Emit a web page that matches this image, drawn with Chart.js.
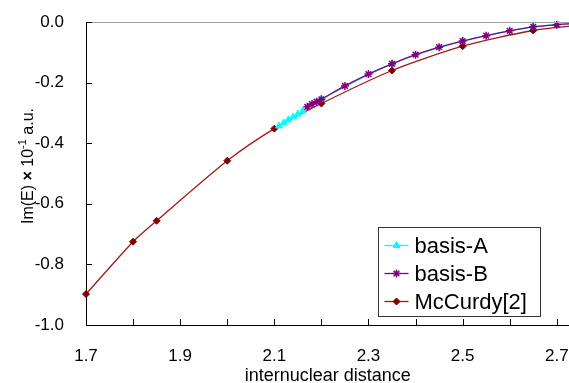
<!DOCTYPE html>
<html>
<head>
<meta charset="utf-8">
<script src="https://cdn.jsdelivr.net/npm/chart.js@4.4.0/dist/chart.umd.min.js"></script>
<style>
  html, body { margin: 0; padding: 0; background: #fff; overflow: hidden; }
  /* the plot runs off the right edge in the picture, so the canvas is a bit wider than the window */
  #wrap { width: 569px; height: 383px; overflow: hidden; }
</style>
</head>
<body>
<div id="wrap"><canvas id="imChart" width="575" height="383"></canvas></div>
<script>
// values (Im(E) in units of 1e-1 a.u.)
const basisAR = [2.11, 2.12, 2.13, 2.14, 2.15, 2.16, 2.2, 2.35, 2.5, 2.65, 2.75];
const basisAIm = [-0.343, -0.333, -0.323, -0.313, -0.304, -0.294, -0.255, -0.138, -0.063, -0.016, -0.004];

const basisBR = [2.17, 2.18, 2.19, 2.2, 2.25, 2.3, 2.35, 2.4, 2.45, 2.5, 2.55, 2.6, 2.65, 2.7, 2.75];
const basisBIm = [-0.280, -0.271, -0.263, -0.255, -0.211, -0.172, -0.138, -0.108, -0.083, -0.063, -0.045, -0.029, -0.016, -0.009, -0.004];

const mcCurdyR = [1.7, 1.8, 1.85, 2.0, 2.1, 2.2, 2.35, 2.5, 2.65, 2.8];
const mcCurdyIm = [-0.898, -0.725, -0.656, -0.458, -0.352, -0.269, -0.160, -0.080, -0.028, -0.003];

const xTicks = [1.7, 1.8, 1.9, 2.0, 2.1, 2.2, 2.3, 2.4, 2.5, 2.6, 2.7];
const xLabels = ['1.7', '1.9', '2.1', '2.3', '2.5', '2.7'];
const yTicks = [-1.0, -0.8, -0.6, -0.4, -0.2, 0.0];

const FONT = "'Liberation Sans', Arial, sans-serif";

function toPoints(xs, ys) {
    return xs.map((x, i) => ({ x: x, y: ys[i] }));
}

// inward tick marks, top frame line, rotated y title and the boxed legend
const decorations = {
    id: 'decorations',
    afterDraw(chart) {
        const ctx = chart.ctx;
        const area = chart.chartArea;
        const xs = chart.scales.x;
        const ys = chart.scales.y;

        ctx.save();
        ctx.strokeStyle = '#a0a0a0';
        ctx.lineWidth = 1;
        ctx.beginPath();
        ctx.moveTo(area.left, area.top + 0.5);
        ctx.lineTo(area.right, area.top + 0.5);
        ctx.stroke();

        ctx.strokeStyle = '#000';
        ctx.beginPath();
        xTicks.forEach(v => {
            const px = Math.round(xs.getPixelForValue(v)) + 0.5;
            ctx.moveTo(px, area.bottom);
            ctx.lineTo(px, area.bottom - 6);
        });
        yTicks.forEach(v => {
            const py = Math.round(ys.getPixelForValue(v)) + 0.5;
            ctx.moveTo(area.left, py);
            ctx.lineTo(area.left + 6, py);
        });
        ctx.stroke();
        ctx.restore();

        // y axis title with superscript
        ctx.save();
        ctx.translate(33, 166);
        ctx.rotate(-Math.PI / 2);
        ctx.fillStyle = '#000';
        ctx.textBaseline = 'alphabetic';
        const parts = [
            { t: 'Im(E) ', f: '16px ' + FONT, dy: 0 },
            { t: '×', f: 'bold 16px ' + FONT, dy: 0 },
            { t: ' 10', f: '16px ' + FONT, dy: 0 },
            { t: '-1', f: '11px ' + FONT, dy: -7 },
            { t: ' a.u.', f: '16px ' + FONT, dy: 0 }
        ];
        let total = 0;
        parts.forEach(p => { ctx.font = p.f; p.w = ctx.measureText(p.t).width; total += p.w; });
        let cx = -total / 2;
        parts.forEach(p => {
            ctx.font = p.f;
            ctx.fillText(p.t, cx, p.dy);
            cx += p.w;
        });
        ctx.restore();

        // legend box
        const bx = 378.5, by = 227.5, bw = 162, bh = 89;
        ctx.save();
        ctx.fillStyle = '#fff';
        ctx.fillRect(bx, by, bw, bh);
        ctx.strokeStyle = '#333';
        ctx.lineWidth = 1;
        ctx.strokeRect(bx, by, bw, bh);
        ctx.font = '22px ' + FONT;
        ctx.textBaseline = 'middle';
        [0, 1, 2].forEach((di, row) => {
            const ds = chart.data.datasets[di];
            const ry = by + 18 + row * 28;
            ctx.strokeStyle = ds.borderColor;
            ctx.lineWidth = ds.borderWidth;
            ctx.beginPath();
            ctx.moveTo(bx + 6, ry);
            ctx.lineTo(bx + 30, ry);
            ctx.stroke();
            ctx.fillStyle = ds.pointBackgroundColor;
            ctx.strokeStyle = ds.pointBorderColor;
            ctx.lineWidth = ds.pointBorderWidth;
            Chart.helpers.drawPoint(ctx, {
                pointStyle: ds.pointStyle,
                radius: ds.pointRadius,
                rotation: 0,
                borderWidth: ds.pointBorderWidth
            }, bx + 18, ry);
            ctx.fillStyle = '#000';
            ctx.fillText(ds.label, bx + 36, ry + 1);
        });
        ctx.restore();
    }
};

const ctx = document.getElementById('imChart').getContext('2d');
new Chart(ctx, {
    type: 'line',
    data: {
        datasets: [
            {
                label: 'basis-A',
                data: toPoints(basisAR, basisAIm),
                borderColor: '#00ffff',
                borderWidth: 1.3,
                pointStyle: 'triangle',
                pointRadius: 4,
                pointBackgroundColor: '#00ffff',
                pointBorderColor: '#00ffff',
                pointBorderWidth: 1,
                tension: 0.35,
                order: 1
            },
            {
                label: 'basis-B',
                data: toPoints(basisBR, basisBIm),
                borderColor: '#800080',
                borderWidth: 1.3,
                pointStyle: 'star',
                pointRadius: 4,
                pointBackgroundColor: '#800080',
                pointBorderColor: '#800080',
                pointBorderWidth: 1.5,
                tension: 0.35,
                order: 0
            },
            {
                label: 'McCurdy[2]',
                data: toPoints(mcCurdyR, mcCurdyIm),
                borderColor: '#a01818',
                borderWidth: 1.3,
                pointStyle: 'rectRot',
                pointRadius: 3.5,
                pointBackgroundColor: '#800000',
                pointBorderColor: '#800000',
                pointBorderWidth: 1,
                tension: 0.25,
                order: 2
            }
        ]
    },
    options: {
        responsive: false,
        maintainAspectRatio: false,
        devicePixelRatio: 1,
        animation: false,
        clip: false,
        layout: { padding: { top: 22, left: 0, right: 0, bottom: 0 } },
        plugins: {
            legend: { display: false },
            tooltip: { enabled: false }
        },
        scales: {
            x: {
                type: 'linear',
                min: 1.7,
                max: 2.727,
                afterFit: scale => {
                    scale.height = 58;
                    scale.paddingLeft = 0;
                    scale.paddingRight = 0;
                },
                afterBuildTicks: scale => { scale.ticks = xTicks.map(v => ({ value: v })); },
                grid: { display: false, drawTicks: false },
                border: { display: true, color: '#000', width: 1 },
                ticks: {
                    color: '#000',
                    padding: 21,
                    maxRotation: 0,
                    autoSkip: false,
                    font: { family: FONT, size: 17 },
                    callback: v => {
                        const s = v.toFixed(1);
                        return xLabels.includes(s) ? s : '';
                    }
                },
                title: {
                    display: true,
                    text: 'internuclear distance',
                    color: '#000',
                    padding: 0,
                    font: { family: FONT, size: 18, lineHeight: 0.8 }
                }
            },
            y: {
                type: 'linear',
                min: -1,
                max: 0,
                afterFit: scale => {
                    scale.width = 86;
                    scale.paddingTop = 0;
                    scale.paddingBottom = 0;
                },
                afterBuildTicks: scale => { scale.ticks = yTicks.map(v => ({ value: v })); },
                grid: { display: false, drawTicks: false },
                border: { display: true, color: '#000', width: 1 },
                ticks: {
                    color: '#000',
                    padding: 22,
                    font: { family: FONT, size: 17 },
                    callback: v => v.toFixed(1)
                }
            }
        }
    },
    plugins: [decorations]
});
</script>
</body>
</html>
